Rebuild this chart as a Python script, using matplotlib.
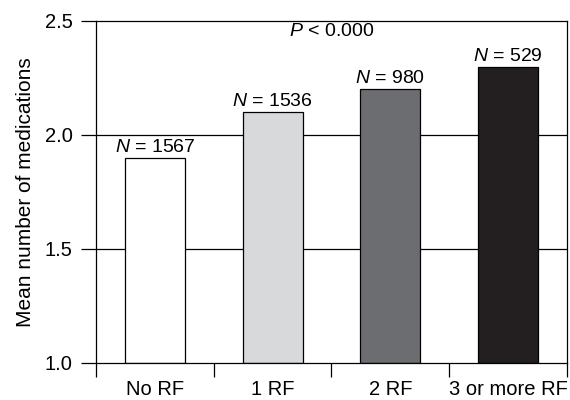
import matplotlib
matplotlib.use('Agg')
import matplotlib.pyplot as plt

plt.rcParams['font.family'] = ['Liberation Sans', 'DejaVu Sans']
plt.rcParams['mathtext.fontset'] = 'custom'
plt.rcParams['mathtext.it'] = 'Liberation Sans:italic'
plt.rcParams['mathtext.rm'] = 'Liberation Sans'

## data
groups = ['No RF', '1 RF', '2 RF', '3 or more RF']
mean_meds = [1.9, 2.1, 2.2, 2.3]
n_counts = [1567, 1536, 980, 529]
bar_colors = ['#ffffff', '#d8d9db', '#6c6d70', '#231f20']
p_text = '$P$ < 0.000'

fig = plt.figure(figsize=(5.7, 4.0), dpi=100)
ax = fig.add_axes([0.1684, 0.0925, 0.8263, 0.855])

pos = [i + 0.5 for i in range(len(groups))]
for yv in [1.5, 2.0]:
    ax.axhline(yv, color='black', lw=0.9, zorder=1)
ax.bar(pos, [m - 1.0 for m in mean_meds], bottom=1.0, width=0.51,
       color=bar_colors, edgecolor='black', linewidth=0.9, zorder=2)

for x, m, n in zip(pos, mean_meds, n_counts):
    ax.annotate('$N$ = %d' % n, (x, m), xytext=(0, 1.5), textcoords='offset points',
                ha='center', va='bottom', fontsize=14)

ax.text(2.0, 2.455, p_text, ha='center', va='center', fontsize=14)

ax.set_xlim(0, 4)
ax.set_ylim(1.0, 2.5)
ax.set_yticks([1.0, 1.5, 2.0, 2.5])
ax.set_yticklabels(['1.0', '1.5', '2.0', '2.5'])
ax.set_xticks([0, 1, 2, 3, 4])
ax.set_xticklabels([])
ax.set_xticks(pos, minor=True)
ax.set_xticklabels(groups, minor=True)
ax.tick_params(axis='x', which='major', direction='out', length=10, width=0.9)
ax.tick_params(axis='x', which='minor', length=0, pad=12, labelsize=14.5)
ax.tick_params(axis='y', direction='out', length=11, width=0.9, labelsize=14.5, pad=6)
for s in ax.spines.values():
    s.set_linewidth(0.9)

ax.set_ylabel('Mean number of medications', fontsize=15, labelpad=7)

plt.savefig('out.png', dpi=100)
